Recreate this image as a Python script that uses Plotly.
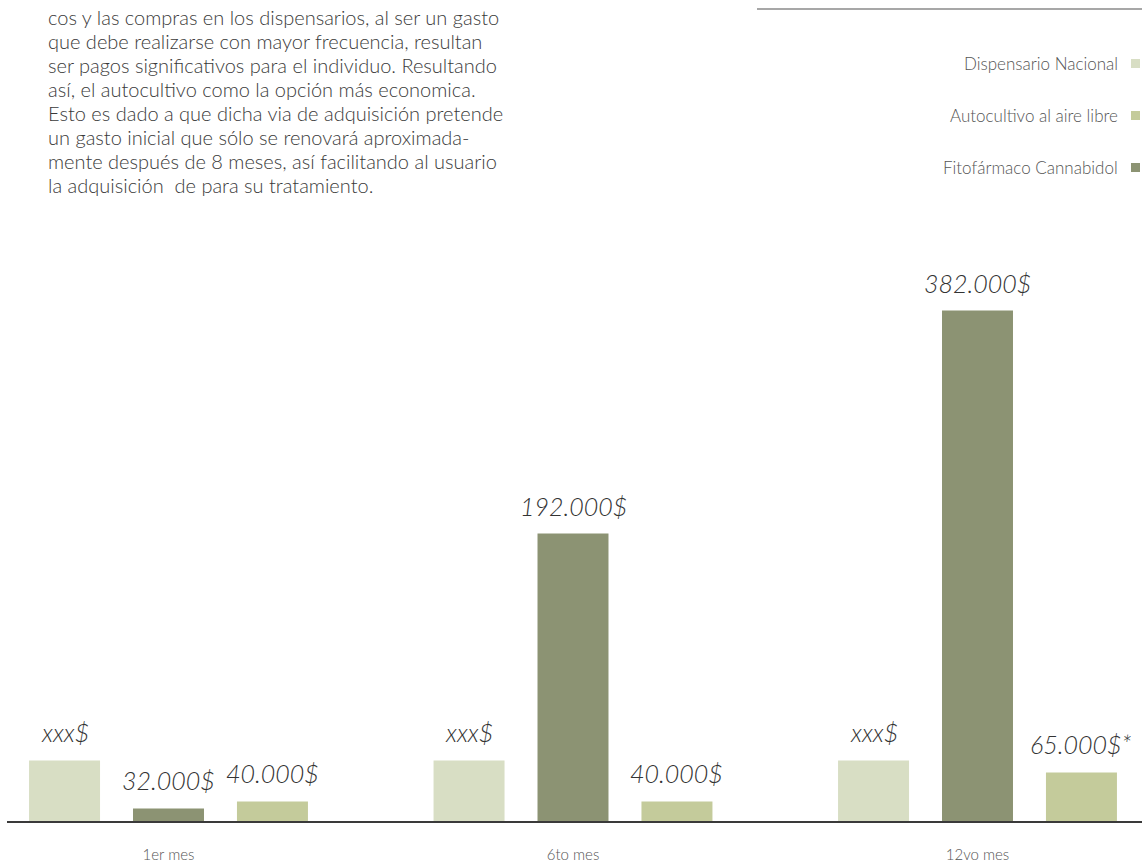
import plotly.graph_objects as go

# data
months = ["1er mes", "6to mes", "12vo mes"]
series = ["Dispensario Nacional", "Fitofármaco Cannabidol", "Autocultivo al aire libre"]
# drawn bar heights (in thousands)
dispensario = [45.3, 45.3, 45.3]
fitofarmaco = [9.4, 215.1, 382.0]
autocultivo = [14.6, 14.6, 36.3]
label_dispensario = ["xxx$", "xxx$", "xxx$"]
label_fitofarmaco = ["32.000$", "192.000$", "382.000$"]
label_autocultivo = ["40.000$", "40.000$", "65.000$*"]
legend_order = ["Dispensario Nacional", "Autocultivo al aire libre", "Fitofármaco Cannabidol"]

body_lines = [
    "cos y las compras en los dispensarios, al ser un gasto",
    "que debe realizarse con mayor frecuencia, resultan",
    "ser pagos significativos para el individuo. Resultando",
    "así, el autocultivo como la opción más economica.",
    "Esto es dado a que dicha via de adquisición pretende",
    "un gasto inicial que sólo se renovará aproximada-",
    "mente después de 8 meses, así facilitando al usuario",
    "la adquisición  de para su tratamiento.",
]

colors = {
    "Dispensario Nacional": "#d8dec4",
    "Fitofármaco Cannabidol": "#8c9373",
    "Autocultivo al aire libre": "#c4cb9b",
}

W, H = 1143, 863
ML, MR, MT, MB = 7, 1, 0, 42
plot_w = W - ML - MR
plot_h = H - MT - MB
FONT = "Lato"
offset = 0.257
bar_w = 0.1755
px_per_unit = 1.3364
unit_px = 404.5


def px(xp):
    return (xp - ML) / plot_w


def py(yp):
    return 1 - (yp - MT) / plot_h


fig = go.Figure()
annotations = []

groups = [
    (series[0], dispensario, label_dispensario, -offset),
    (series[1], fitofarmaco, label_fitofarmaco, 0.0),
    (series[2], autocultivo, label_autocultivo, offset),
]
for name, vals, labels, dx in groups:
    xs = [i + dx for i in range(len(months))]
    fig.add_trace(go.Bar(
        x=xs, y=vals, width=bar_w, name=name,
        marker=dict(color=colors[name], line=dict(width=0)),
        showlegend=False, hoverinfo="skip",
    ))
    for x, v, t in zip(xs, vals, labels):
        annotations.append(dict(
            x=x, y=v, xref="x", yref="y", text=t, showarrow=False,
            yanchor="middle", yshift=28,
            font=dict(family=FONT, size=25, color="#333333", style="italic", weight=300),
        ))

# body text (top-left)
for k, line in enumerate(body_lines):
    annotations.append(dict(
        x=px(46), y=py(17 + 24 * k), xref="paper", yref="paper", text=line,
        showarrow=False, xanchor="left", yanchor="middle",
        font=dict(family=FONT, size=20, color="#3a3a3a", weight=300),
    ))

# legend (text right-aligned, swatch on the right)
shapes = [dict(type="line", xref="paper", yref="paper",
               x0=px(757), x1=px(1142), y0=py(9), y1=py(9),
               line=dict(color="#8a8a8a", width=1.5))]
for k, name in enumerate(legend_order):
    yc = 63.5 + 52 * k
    annotations.append(dict(
        x=px(1120), y=py(yc), xref="paper", yref="paper", text=name,
        showarrow=False, xanchor="right", yanchor="middle",
        font=dict(family=FONT, size=17, color="#555555", weight=300),
    ))
    shapes.append(dict(
        type="rect", xref="paper", yref="paper",
        x0=px(1131), x1=px(1140), y0=py(yc + 4.5), y1=py(yc - 4.5),
        fillcolor=colors[name], line=dict(width=0),
    ))

fig.update_layout(
    width=W, height=H,
    margin=dict(l=ML, r=MR, t=MT, b=MB),
    plot_bgcolor="white", paper_bgcolor="white",
    barmode="overlay",
    showlegend=False,
    annotations=annotations,
    shapes=shapes,
    xaxis=dict(
        range=[-161.5 / unit_px, 2 + 164.5 / unit_px],
        tickvals=list(range(len(months))), ticktext=months,
        showgrid=False, zeroline=False,
        showline=True, linecolor="#3a3a3a", linewidth=1.5,
        ticks="outside", ticklen=19, tickcolor="rgba(0,0,0,0)",
        tickfont=dict(family=FONT, size=15, color="#555555", weight=300),
    ),
    yaxis=dict(
        range=[0, plot_h / px_per_unit],
        visible=False, showgrid=False, zeroline=False,
    ),
)

# drop the default body margin so the figure sits at the page corner
fig.write_html(
    "out.html",
    config={"displayModeBar": False},
    post_script="document.body.style.margin='0';document.body.style.overflow='hidden';",
)
